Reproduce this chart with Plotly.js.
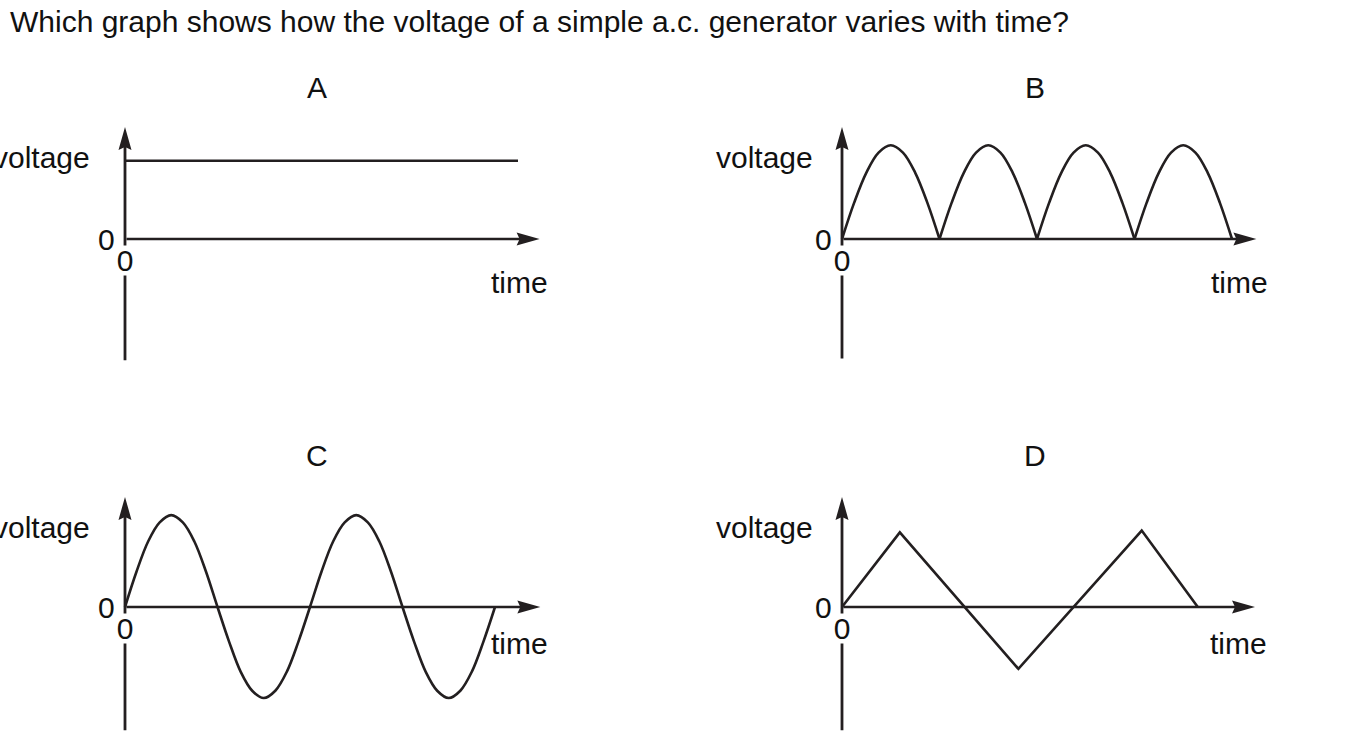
<!DOCTYPE html>
<html>
<head>
<meta charset="utf-8">
<script src="https://cdn.plot.ly/plotly-3.0.1.min.js"></script>
<style>html,body{margin:0;padding:0;background:#fff;}</style>
</head>
<body>
<div id="chart" style="width:1355px;height:741px;"></div>
<script>
// ---------- text ----------
const questionText = "Which graph shows how the voltage of a simple a.c. generator varies with time?";
const panelLabels = ["A", "B", "C", "D"];
const yAxisLabel = "voltage";
const xAxisLabel = "time";
const zeroLabel = "0";

// ---------- data (time, voltage in arbitrary units) ----------
// A: steady (d.c.) voltage
const aTime = [0, 4];
const aVoltage = [0.86, 0.86];

// B: rectified humps (gaps separate the humps so the cusps stay sharp)
const bTime = [0, 0.125, 0.25, 0.375, 0.5, 0.625, 0.75, 0.875, 1, null,
               1, 1.125, 1.25, 1.375, 1.5, 1.625, 1.75, 1.875, 2, null,
               2, 2.125, 2.25, 2.375, 2.5, 2.625, 2.75, 2.875, 3, null,
               3, 3.125, 3.25, 3.375, 3.5, 3.625, 3.75, 3.875, 4];
const bVoltage = [0, 0.40, 0.73, 0.95, 1.03, 0.95, 0.73, 0.40, 0, null,
                  0, 0.40, 0.73, 0.95, 1.03, 0.95, 0.73, 0.40, 0, null,
                  0, 0.40, 0.73, 0.95, 1.03, 0.95, 0.73, 0.40, 0, null,
                  0, 0.40, 0.73, 0.95, 1.03, 0.95, 0.73, 0.40, 0];

// C: alternating (sinusoidal) voltage
const cTime = [0, 0.125, 0.25, 0.375, 0.5, 0.625, 0.75, 0.875, 1,
               1.125, 1.25, 1.375, 1.5, 1.625, 1.75, 1.875, 2,
               2.125, 2.25, 2.375, 2.5, 2.625, 2.75, 2.875, 3,
               3.125, 3.25, 3.375, 3.5, 3.625, 3.75, 3.875, 4];
const cVoltage = [0, 0.39, 0.72, 0.93, 1.01, 0.93, 0.72, 0.39, 0,
                  -0.38, -0.71, -0.92, -1.00, -0.92, -0.71, -0.38, 0,
                  0.39, 0.72, 0.93, 1.01, 0.93, 0.72, 0.39, 0,
                  -0.38, -0.71, -0.92, -1.00, -0.92, -0.71, -0.38, 0];

// D: triangular voltage
const dTime = [0, 0.98, 2.99, 5.08, 6.03];
const dVoltage = [0, 0.82, -0.68, 0.84, 0];

// axis extents (data units) for each panel A, B, C, D
const timeAxisEnd = [4.22, 4.25, 4.49, 7.0];
const voltAxisTop = [1.23, 1.23, 1.21, 1.21];
const voltAxisBottom = [-1.35, -1.33, -1.37, -1.37];

// ---------- layout geometry (pixels) ----------
const W = 1355, H = 741;
const INK = "#231f20";
const FONT = "Liberation Sans, Arial, Helvetica, sans-serif";
const geom = [
  {ox: 125, oy: 239, sx: 98.25, sy: 91, L: 95,  R: 565,  T: 112, B: 380, labX: 317,  labY: 87,  vShiftX: -33, vShiftY: 82, tShiftX: 10, tShiftY: -43},
  {ox: 842, oy: 239, sx: 97.5,  sy: 91, L: 812, R: 1282, T: 112, B: 380, labX: 1035, labY: 87,  vShiftX: -27, vShiftY: 82, tShiftX: 14, tShiftY: -43},
  {ox: 125, oy: 607, sx: 92.5,  sy: 91, L: 95,  R: 565,  T: 480, B: 741, labX: 317,  labY: 455, vShiftX: -33, vShiftY: 80, tShiftX: 10, tShiftY: -36},
  {ox: 842, oy: 607, sx: 59,    sy: 91, L: 812, R: 1282, T: 480, B: 741, labX: 1035, labY: 455, vShiftX: -27, vShiftY: 80, tShiftX: 14, tShiftY: -36}
];

const series = [
  {x: aTime, y: aVoltage, shape: "linear"},
  {x: bTime, y: bVoltage, shape: "spline"},
  {x: cTime, y: cVoltage, shape: "spline"},
  {x: dTime, y: dVoltage, shape: "linear"}
];

const traces = [];
const layout = {
  width: W, height: H,
  margin: {l: 0, r: 0, t: 0, b: 0, pad: 0},
  paper_bgcolor: "#ffffff",
  plot_bgcolor: "rgba(0,0,0,0)",
  showlegend: false,
  hovermode: false,
  font: {family: FONT, size: 30, color: "#111111"},
  annotations: [],
  shapes: []
};

layout.annotations.push({
  xref: "paper", yref: "paper", x: 8 / W, y: 1 - 22 / H,
  xanchor: "left", yanchor: "middle", showarrow: false,
  text: questionText, font: {family: FONT, size: 30, color: "#111111"}
});

geom.forEach((g, i) => {
  const n = i + 1;
  const xa = "xaxis" + (n === 1 ? "" : n);
  const ya = "yaxis" + (n === 1 ? "" : n);
  const xr = "x" + (n === 1 ? "" : n);
  const yr = "y" + (n === 1 ? "" : n);
  const axCommon = {showgrid: false, zeroline: false, showline: false, showticklabels: false,
                    ticks: "", fixedrange: true, type: "linear"};
  layout[xa] = Object.assign({}, axCommon, {
    domain: [g.L / W, g.R / W],
    range: [(g.L - g.ox) / g.sx, (g.R - g.ox) / g.sx],
    anchor: yr
  });
  layout[ya] = Object.assign({}, axCommon, {
    domain: [1 - g.B / H, 1 - g.T / H],
    range: [(g.oy - g.B) / g.sy, (g.oy - g.T) / g.sy],
    anchor: xr
  });

  // curve
  traces.push({
    type: "scatter", mode: "lines", xaxis: xr, yaxis: yr,
    x: series[i].x, y: series[i].y, connectgaps: false,
    line: {color: INK, width: 2.6, shape: series[i].shape, smoothing: 1},
    hoverinfo: "skip"
  });

  // time axis line (origin -> arrow tip)
  layout.annotations.push({
    xref: xr, yref: yr, axref: xr, ayref: yr,
    x: timeAxisEnd[i], y: 0, ax: 0, ay: 0, text: "",
    showarrow: true, arrowhead: 0, arrowwidth: 2.6, arrowcolor: INK, standoff: 10
  });
  // voltage axis line (bottom -> arrow tip)
  layout.annotations.push({
    xref: xr, yref: yr, axref: xr, ayref: yr,
    x: 0, y: voltAxisTop[i], ax: 0, ay: voltAxisBottom[i], text: "",
    showarrow: true, arrowhead: 0, arrowwidth: 2.8, arrowcolor: INK, standoff: 10
  });
  // arrowheads
  layout.shapes.push({
    type: "path", xref: xr, yref: yr, xsizemode: "pixel", ysizemode: "pixel",
    xanchor: timeAxisEnd[i], yanchor: 0,
    path: "M0,0L-23,6.5L-20,0L-23,-6.5Z",
    fillcolor: INK, line: {width: 0}, layer: "above"
  });
  layout.shapes.push({
    type: "path", xref: xr, yref: yr, xsizemode: "pixel", ysizemode: "pixel",
    xanchor: 0, yanchor: voltAxisTop[i],
    path: "M0,0L6.5,-23L0,-20L-6.5,-23Z",
    fillcolor: INK, line: {width: 0}, layer: "above"
  });

  // panel letter
  layout.annotations.push({
    xref: "paper", yref: "paper", x: g.labX / W, y: 1 - g.labY / H,
    xanchor: "center", yanchor: "middle", showarrow: false, text: panelLabels[i]
  });
  // "voltage"
  layout.annotations.push({
    xref: xr, yref: yr, x: 0, y: 0, xanchor: "right", yanchor: "middle",
    xshift: g.vShiftX, yshift: g.vShiftY, showarrow: false, text: yAxisLabel
  });
  // "time"
  layout.annotations.push({
    xref: xr, yref: yr, x: timeAxisEnd[i], y: 0, xanchor: "right", yanchor: "middle",
    xshift: g.tShiftX, yshift: g.tShiftY, showarrow: false, text: xAxisLabel
  });
  // "0" left of origin
  layout.annotations.push({
    xref: xr, yref: yr, x: 0, y: 0, xanchor: "right", yanchor: "middle",
    xshift: -8, yshift: 0, showarrow: false, text: zeroLabel
  });
  // "0" below origin (white box breaks the voltage axis)
  layout.annotations.push({
    xref: xr, yref: yr, x: 0, y: 0, xanchor: "center", yanchor: "middle",
    xshift: 0, yshift: -21, showarrow: false, text: zeroLabel,
    bgcolor: "#ffffff", borderpad: 0, height: 29, width: 22
  });
});

Plotly.newPlot("chart", traces, layout, {staticPlot: true, displayModeBar: false});
</script>
</body>
</html>
